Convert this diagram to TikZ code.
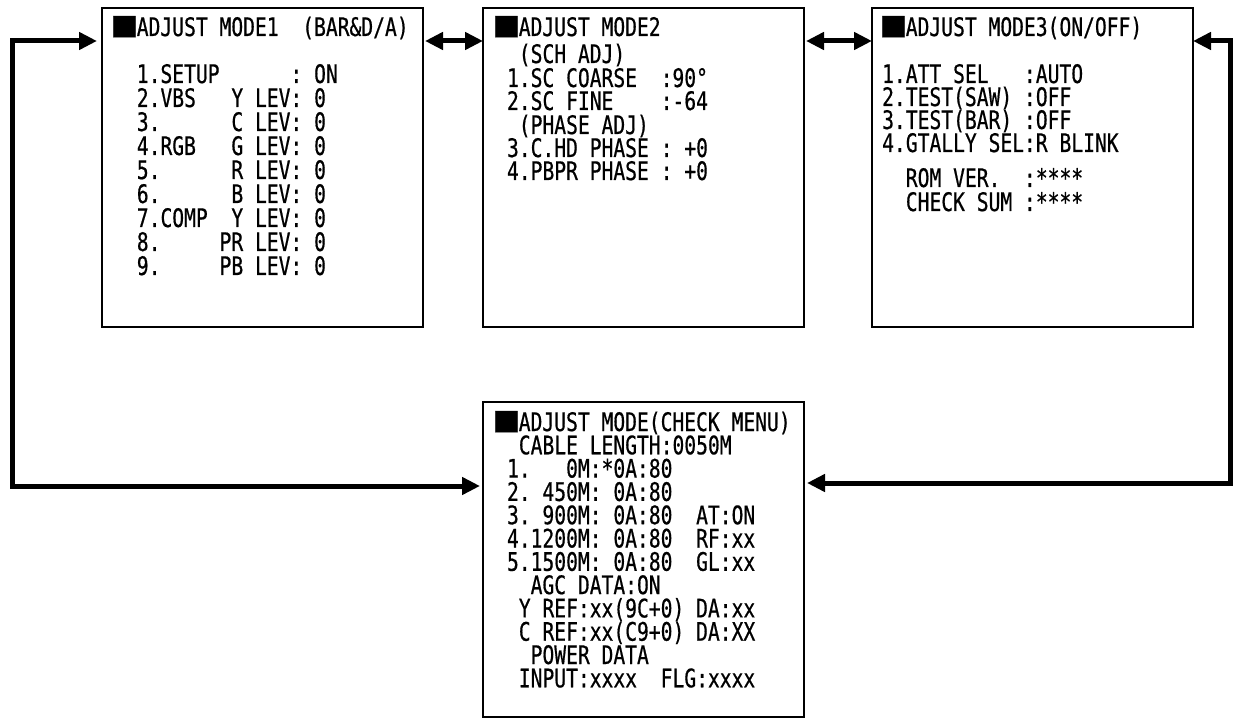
\documentclass[tikz,border=0pt]{standalone}
\usepackage{fontspec}
\usepackage{graphicx}
\usetikzlibrary{arrows.meta, positioning, calc}
\newfontfamily\scrfont[FakeStretch=0.77, FakeBold=0.6]{DejaVu Sans Mono}
% full-width black square of the screen font
\newcommand\blk{\makebox[23.6pt][l]{\scalebox{1.9}[1.4]{■}}}

\begin{document}
\begin{tikzpicture}[x=1pt, y=-1pt,
  >={Triangle[length=18pt, width=17pt]},
  screen/.style={draw, line width=2.5pt, outer sep=0pt, minimum width=321pt, minimum height=319pt},
  scr/.style={font=\scrfont\fontsize{25.5pt}{25.5pt}\selectfont, inner sep=0pt, anchor=base west},
  link/.style={line width=5pt, <->}]
\useasboundingbox (0,0) rectangle (1237,719);
\fill[white] (0,0) rectangle (1237,719);

% screens
\node[screen] (mode1) at (262.5,167.5) {};
\node[screen, right=60pt of mode1] (mode2) {};
\node[screen, right=68pt of mode2] (mode3) {};
\node[screen, minimum height=315pt, below=75pt of mode2] (check) {};

% ADJUST MODE1
\node[scr] (t1) at (113,36) {\blk ADJUST~MODE1~~(BAR\&D/A)};
\foreach \yv/\txt [count=\i] in {83/~~1.SETUP~~~~~~:~ON, 107/~~2.VBS~~~Y~LEV:~0,
  131/~~3.~~~~~~C~LEV:~0, 155/~~4.RGB~~~G~LEV:~0, 179/~~5.~~~~~~R~LEV:~0,
  203/~~6.~~~~~~B~LEV:~0, 227/~~7.COMP~~Y~LEV:~0, 251/~~8.~~~~~PR~LEV:~0,
  275/~~9.~~~~~PB~LEV:~0}
  \node[scr] (m1-\i) at (113,\yv) {\txt};

% ADJUST MODE2
\node[scr] (t2) at (495,36) {\blk ADJUST~MODE2};
\foreach \yv/\txt [count=\i] in {63/~~(SCH~ADJ), 87/~1.SC~COARSE~~:90°,
  110/~2.SC~FINE~~~~:-64, 134/~~(PHASE~ADJ), 157/~3.C.HD~PHASE~:~+0,
  180/~4.PBPR~PHASE~:~+0}
  \node[scr] (m2-\i) at (495,\yv) {\txt};

% ADJUST MODE3
\node[scr] (t3) at (882,36) {\blk ADJUST~MODE3(ON/OFF)};
\foreach \yv/\txt [count=\i] in {83/1.ATT~SEL~~~:AUTO, 106/2.TEST(SAW)~:OFF,
  129/3.TEST(BAR)~:OFF, 152/4.GTALLY~SEL:R~BLINK, 187/~~ROM~VER.~~:****,
  211/~~CHECK~SUM~:****}
  \node[scr] (m3-\i) at (882,\yv) {\txt};

% CHECK MENU
\node[scr] (t4) at (495,431) {\blk ADJUST~MODE(CHECK~MENU)};
\foreach \txt [count=\i] in {~~CABLE~LENGTH:0050M, ~1.~~~0M:*0A:80, ~2.~450M:~0A:80,
  ~3.~900M:~0A:80~~AT:ON, ~4.1200M:~0A:80~~RF:xx, ~5.1500M:~0A:80~~GL:xx,
  ~~~AGC~DATA:ON, ~~Y~REF:xx(9C+0)~DA:xx, ~~C~REF:xx(C9+0)~DA:XX,
  ~~~POWER~DATA, ~~INPUT:xxxx~~FLG:xxxx}
  \node[scr] (m4-\i) at (495,431+23.3*\i) {\txt};

% links
\coordinate (loopL) at (12,486);
\coordinate (loopR) at (1230,483);
\draw[link] ([shift={(2,33)}]mode1.north east) -- ([shift={(0,33)}]mode2.north west);
\draw[link] ([shift={(2,33)}]mode2.north east) -- ([shift={(0,33)}]mode3.north west);
\draw[link] ([shift={(-5,33)}]mode1.north west) -| (loopL) -- ([shift={(-3,84)}]check.north west);
\draw[link] ([shift={(0,33)}]mode3.north east) -| (loopR) -- ([shift={(3,81)}]check.north east);
\end{tikzpicture}
\end{document}
